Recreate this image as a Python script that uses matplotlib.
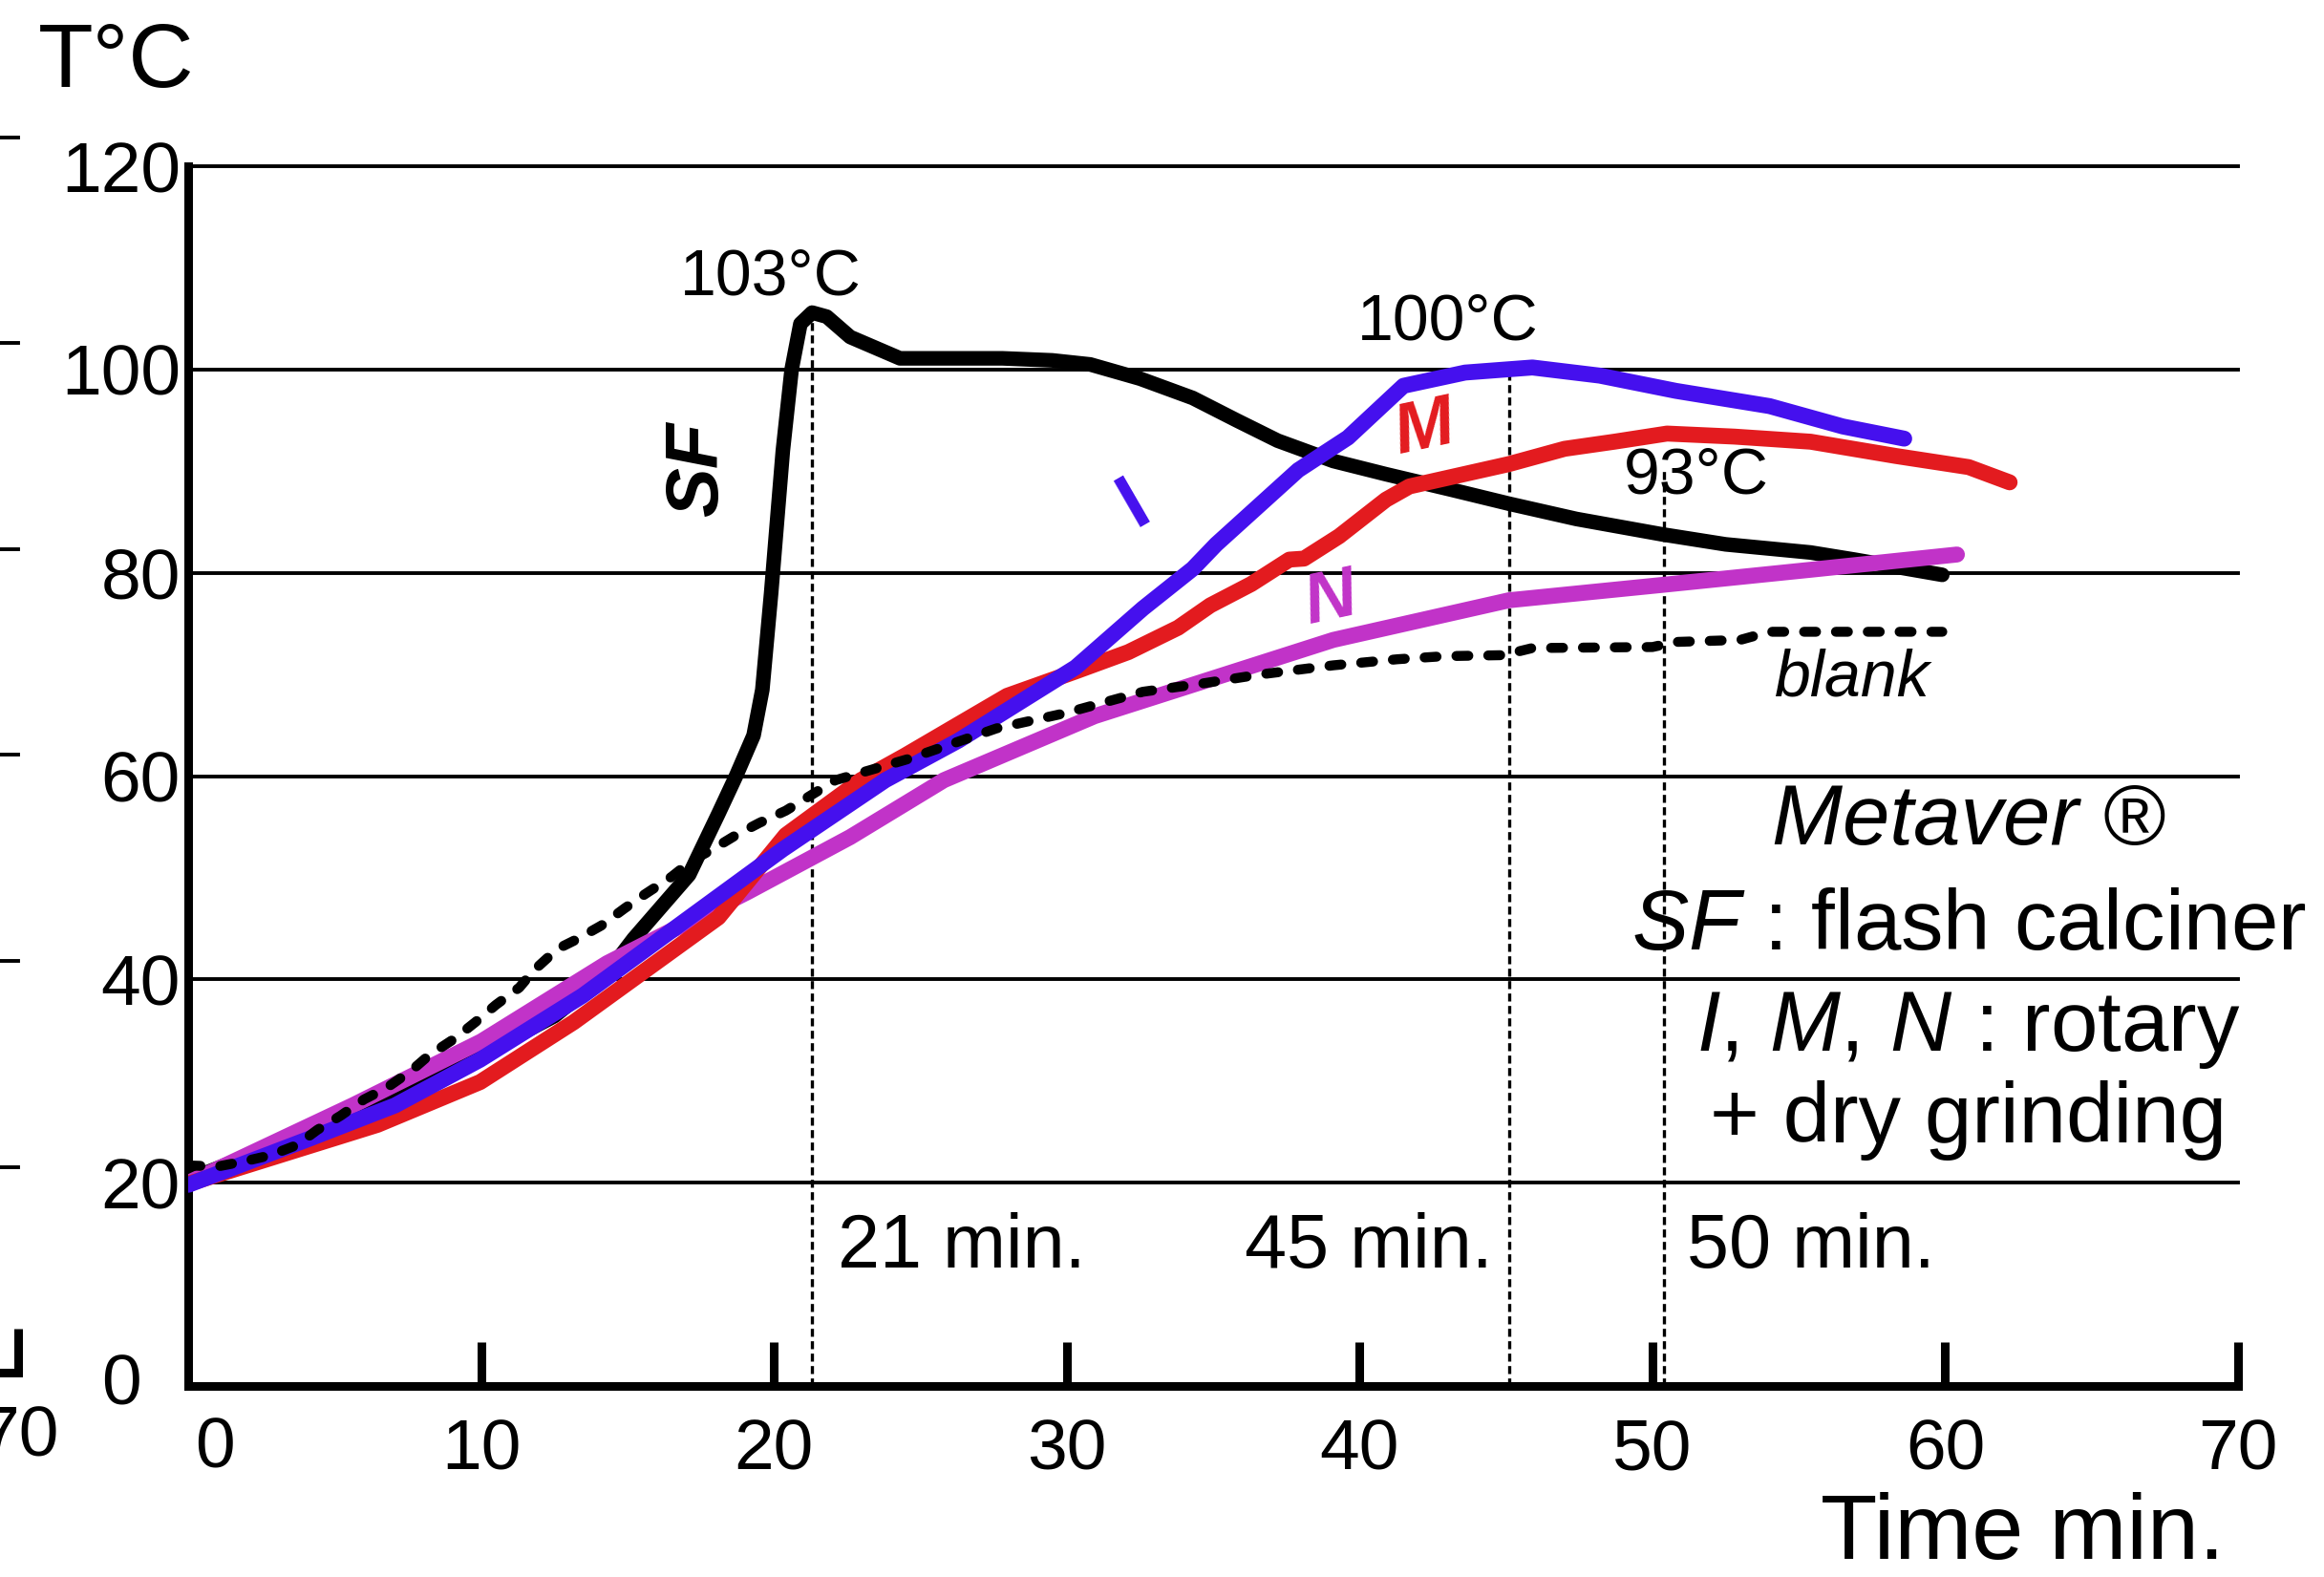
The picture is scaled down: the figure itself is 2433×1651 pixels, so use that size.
import matplotlib
matplotlib.use('Agg')
import matplotlib.pyplot as plt

plt.rcParams['font.family'] = ['Liberation Sans', 'DejaVu Sans']
plt.rcParams['mathtext.fontset'] = 'custom'
plt.rcParams['mathtext.rm'] = 'Liberation Sans'
plt.rcParams['mathtext.it'] = 'Liberation Sans:italic'

# SF : flash calciner
sf_t = [0, 5, 10, 12.5, 14.3, 15.2, 17.1, 18.1, 18.7, 19.3, 19.6, 19.9, 20.3, 20.6, 20.9, 21.3, 21.8,
        22.6, 24.3, 27.8, 29.5, 30.8, 32.5, 34.3, 35.8, 37.2, 39.1, 40.9, 43.1, 45.1, 47.4, 50.3, 52.5,
        55.4, 56.9, 59.9]
sf_T = [20.3, 26.0, 32.6, 36.4, 40.6, 44.0, 50.3, 56.3, 60, 64, 68.5, 78, 92, 100, 104.5, 105.6, 105.2,
        103.2, 101.1, 101.1, 100.9, 100.5, 99.1, 97.2, 95, 93, 91.0, 89.7, 88.2, 86.8, 85.3, 83.8, 82.8,
        82.0, 81.3, 79.8]

# I (rotary)
i_t = [0, 4.1, 7.05, 9.96, 13.46, 17.97, 20.3, 23.8, 26.3, 30.3, 32.6, 34.3, 35.1, 37.9, 39.6, 41.5,
       43.6, 45.9, 48.2, 50.8, 54.0, 56.5, 58.6]
i_T = [19.8, 24.3, 27.6, 32.1, 38.4, 47.9, 52.8, 59.6, 63.5, 70.7, 76.5, 80.4, 82.8, 90.1, 93.3, 98.4,
       99.7, 100.2, 99.4, 97.9, 96.4, 94.4, 93.2]

# M (rotary)
m_t = [0, 6.46, 9.96, 13.16, 18.1, 20.4, 22.96, 24.46, 27.96, 30.3, 32.1, 33.8, 34.9, 36.3, 37.6, 38.1,
       39.3, 40.9, 41.7, 45.1, 47, 48.7, 50.5, 52.8, 55.4, 58.3, 60.8, 62.2]
m_T = [19.9, 25.7, 29.9, 35.8, 46.1, 54.2, 59.6, 62, 67.9, 70.3, 72.2, 74.6, 76.8, 78.9, 81.3, 81.4,
       83.6, 87.2, 88.5, 90.7, 92.2, 92.9, 93.7, 93.4, 92.9, 91.5, 90.4, 88.9]

# N (rotary)
n_t = [0, 5.6, 10, 14.3, 19.1, 22.6, 25.8, 30.95, 39.1, 45.1, 50.3, 55.4, 60.4]
n_T = [20.0, 27.6, 33.9, 41.6, 48.6, 54.0, 59.6, 65.9, 73.4, 77.3, 78.8, 80.3, 81.8]

# blank
bl_t = [0, 1.0, 1.9, 2.8, 3.7, 4.4, 5.2, 6.0, 6.75, 7.6, 8.2, 9.1, 9.8, 10.5, 11.3, 11.8, 12.6, 13.3,
        14.1, 14.9, 15.6, 16.5, 17.2, 17.9, 18.7, 19.5, 20.4, 22.1, 24.6, 27.6, 29.95, 32.6, 34.6, 36.6,
        39.1, 41.3, 42.9, 44.9, 45.9, 50.0, 50.8, 53.0, 54.0, 59.9]
bl_T = [21.7, 21.6, 22.1, 22.7, 23.7, 25.2, 26.6, 28.2, 29.3, 31.0, 32.5, 34.2, 35.8, 37.5, 39.2, 40.9,
        43.0, 44.0, 45.3, 47.0, 48.4, 50.1, 51.7, 52.8, 54.2, 55.4, 56.6, 59.6, 61.7, 64.7, 66.2, 68.3,
        69.1, 70.0, 70.9, 71.5, 71.8, 71.9, 72.6, 72.7, 73.2, 73.4, 74.2, 74.2]

# vertical marks
mark_t = [21.3, 45.1, 50.4]
mark_top = [104.9, 100, 90]
mark_txt = ['21 min.', '45 min.', '50 min.']
mark_txt_x = [26.4, 40.3, 55.4]

grid_T = [20, 40, 60, 80, 100, 120]
x_ticks = [10, 20, 30, 40, 50, 60, 70]

c_blue = '#4510EE'
c_red = '#E31B1F'
c_mag = '#C133C8'

fig = plt.figure(figsize=(24.33, 16.51), dpi=100)

# piece of the neighbouring panel, cut at the left edge
gh = fig.add_axes([-0.874, 0.1296, 0.882, 0.7832])
gh.set_xlim(0, 70)
gh.set_ylim(0, 120)
for g in grid_T:
    gh.axhline(g, color='black', lw=2.8, clip_on=False)
gh.axhline(0, color='black', lw=6.5, clip_on=False)
for s in gh.spines.values():
    s.set_visible(False)
gh.set_yticks([])
gh.set_xticks([70])
gh.set_xticklabels(['70'])
gh.tick_params(axis='x', direction='in', length=33, width=6.5, labelsize=54, pad=24)
gh.patch.set_visible(False)

ax = fig.add_axes([0.0811, 0.1211, 0.8819, 0.7735])
ax.set_xlim(0, 70)
ax.set_ylim(0, 120)
ax.patch.set_visible(False)

for g in grid_T:
    ax.axhline(g, color='black', lw=2.8, clip_on=False, zorder=1)

ax.plot(sf_t, sf_T, color='black', lw=11, solid_capstyle='round', solid_joinstyle='round', zorder=2.5)
ax.plot(n_t, n_T, color=c_mag, lw=12, solid_capstyle='round', zorder=3)
ax.plot(m_t, m_T, color=c_red, lw=12, solid_capstyle='round', zorder=3)
ax.plot(i_t, i_T, color=c_blue, lw=12, solid_capstyle='round', zorder=4)
ax.plot(bl_t, bl_T, color='black', lw=7.5, dashes=(1.2, 2.0), dash_capstyle='round', zorder=5)

for t, top, lab, tx in zip(mark_t, mark_top, mark_txt, mark_txt_x):
    ax.plot([t, t], [0, top], color='black', lw=2.4, dashes=(2.5, 1.4), zorder=2)
    ax.text(tx, 13.6, lab, fontsize=57, ha='center', va='center')

ax.text(19.9, 109.1, '103°C', fontsize=49, ha='center', va='center')
ax.text(43.0, 104.6, '100°C', fontsize=49, ha='center', va='center')
ax.text(51.5, 89.5, '93°C', fontsize=49, ha='center', va='center')

ax.text(17.4, 90.2, 'SF', fontsize=56, fontweight='bold', fontstyle='italic', rotation=90,
        ha='center', va='center')
ax.text(32.3, 86.7, 'I', fontsize=58, color=c_blue, fontweight='bold', rotation=30,
        ha='center', va='center')
ax.text(42.2, 94.1, 'M', fontsize=54, color=c_red, fontweight='bold', fontstyle='italic',
        rotation=12, ha='center', va='center')
ax.text(39.0, 77.3, 'N', fontsize=54, color=c_mag, fontweight='bold', fontstyle='italic',
        rotation=12, ha='center', va='center')
ax.text(56.8, 69.6, 'blank', fontsize=49, fontstyle='italic', ha='center', va='center')

ax.text(60.8, 55.4, 'Metaver ®', fontsize=64, fontstyle='italic', ha='center', va='center')
ax.text(60.8, 45.1, r'$\mathit{SF}$ : flash calciner', fontsize=64, ha='center', va='center')
ax.text(60.8, 35.0, r'$\mathit{I,\,M,\,N}$ : rotary', fontsize=64, ha='center', va='center')
ax.text(60.8, 26.1, '+ dry grinding', fontsize=64, ha='center', va='center')

ax.text(-0.0354, 1.084, 'T°C', fontsize=68, ha='center', va='center', transform=ax.transAxes)
ax.text(0.895, -0.122, 'Time min.', fontsize=70, ha='center', va='center', transform=ax.transAxes)

for s in ['top', 'right']:
    ax.spines[s].set_visible(False)
ax.spines['left'].set_linewidth(6.5)
ax.spines['bottom'].set_linewidth(6.5)
ax.spines['left'].set_bounds(0, 120)

ax.set_yticks(grid_T)
ax.set_yticklabels([str(g) for g in grid_T])
ax.tick_params(axis='y', length=0, labelsize=54, pad=6)
ax.text(-2.3, 0, '0', fontsize=54, ha='center', va='center')

ax.set_xticks(x_ticks)
ax.set_xticklabels([str(x) for x in x_ticks])
ax.tick_params(axis='x', direction='in', length=33, width=6.5, labelsize=54, pad=24)
ax.text(0.9, -6.2, '0', fontsize=54, ha='center', va='center')

fig.savefig('out.png', dpi=100)
